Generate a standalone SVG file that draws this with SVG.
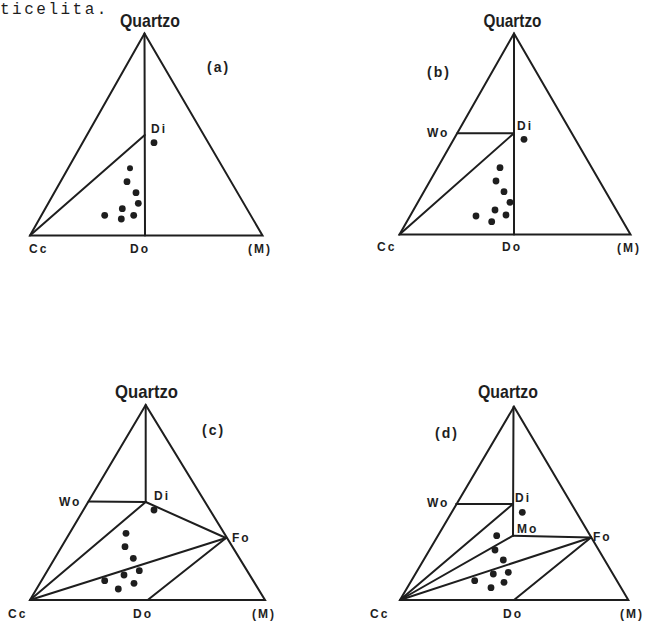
<svg xmlns="http://www.w3.org/2000/svg" width="647" height="622" viewBox="0 0 647 622">
<style>
.ln{fill:none;stroke:#1e1e1e;stroke-width:2;stroke-linejoin:miter;stroke-linecap:round}
.dot{fill:#1e1e1e}
.q{font-family:"Liberation Sans",Arial,sans-serif;font-weight:bold;font-size:19px;fill:#1e1e1e;text-anchor:middle}
.lb{font-family:"Liberation Sans",Arial,sans-serif;font-weight:bold;font-size:12px;letter-spacing:2px;fill:#1e1e1e}
.pl{font-family:"Liberation Sans",Arial,sans-serif;font-weight:bold;font-size:14px;letter-spacing:2px;fill:#1e1e1e}
.tx{font-family:"Liberation Mono","Courier New",monospace;font-size:16px;letter-spacing:2.5px;fill:#1e1e1e}
</style>
<rect width="647" height="622" fill="#fff"/>
<text class="tx" x="0" y="14">ticelita.</text>

<!-- Panel (a) -->
<g id="panel-a">
  <g id="a-connectors">
    <polygon class="ln" points="144.5,33.5 30,235.5 262.5,235.5"/>
    <line class="ln" x1="144.5" y1="33.5" x2="145" y2="235.5"/>
    <line class="ln" x1="30" y1="235.5" x2="144.8" y2="135"/>
  </g>
  <g id="a-quartzo"><text class="q" x="150" y="26.5" textLength="60" lengthAdjust="spacingAndGlyphs">Quartzo</text></g>
  <g id="a-title"><text class="pl" x="207" y="72">(a)</text></g>
  <g id="a-di"><text class="lb" x="151" y="133">Di</text></g>
  <g id="a-cc"><text class="lb" x="29" y="253">Cc</text></g>
  <g id="a-do"><text class="lb" x="130" y="253">Do</text></g>
  <g id="a-m"><text class="lb" x="248" y="253">(M)</text></g>
  <g id="a-dots">
    <circle class="dot" cx="154" cy="142.7" r="3.4"/>
    <circle class="dot" cx="130" cy="168.3" r="3"/>
    <circle class="dot" cx="127" cy="181.7" r="3.4"/>
    <circle class="dot" cx="136" cy="192.7" r="3.4"/>
    <circle class="dot" cx="138.3" cy="203.3" r="3.4"/>
    <circle class="dot" cx="122.3" cy="208.7" r="3.4"/>
    <circle class="dot" cx="104.7" cy="215.3" r="3.4"/>
    <circle class="dot" cx="121.3" cy="219" r="3.4"/>
    <circle class="dot" cx="133.7" cy="215.3" r="3.4"/>
  </g>
</g>

<!-- Panel (b) -->
<g id="panel-b">
  <g id="b-connectors">
    <polygon class="ln" points="514,33.5 399.5,234.5 630.5,234.5"/>
    <line class="ln" x1="514" y1="33.5" x2="514" y2="234.5"/>
    <line class="ln" x1="457.3" y1="133.2" x2="514" y2="133.2"/>
    <line class="ln" x1="399.5" y1="234.5" x2="514" y2="133.2"/>
  </g>
  <g id="b-quartzo"><text class="q" x="512.5" y="26.7" textLength="58" lengthAdjust="spacingAndGlyphs">Quartzo</text></g>
  <g id="b-title"><text class="pl" x="427" y="77">(b)</text></g>
  <g id="b-wo"><text class="lb" x="427" y="137">Wo</text></g>
  <g id="b-di"><text class="lb" x="517" y="130">Di</text></g>
  <g id="b-cc"><text class="lb" x="377" y="251">Cc</text></g>
  <g id="b-do"><text class="lb" x="502" y="251">Do</text></g>
  <g id="b-m"><text class="lb" x="617" y="252">(M)</text></g>
  <g id="b-dots">
    <circle class="dot" cx="524" cy="139.3" r="3.4"/>
    <circle class="dot" cx="500" cy="167.7" r="3.4"/>
    <circle class="dot" cx="496" cy="181" r="3.4"/>
    <circle class="dot" cx="504" cy="191.7" r="3.4"/>
    <circle class="dot" cx="510" cy="202.3" r="3.4"/>
    <circle class="dot" cx="495" cy="210" r="3.4"/>
    <circle class="dot" cx="506" cy="215" r="3.4"/>
    <circle class="dot" cx="476" cy="216" r="3.4"/>
    <circle class="dot" cx="491.7" cy="221.7" r="3.4"/>
  </g>
</g>

<!-- Panel (c) -->
<g id="panel-c">
  <g id="c-connectors">
    <polygon class="ln" points="145.7,405 30,600 265,600"/>
    <line class="ln" x1="145.7" y1="405" x2="145.7" y2="502"/>
    <line class="ln" x1="88.6" y1="501.5" x2="145.7" y2="502"/>
    <line class="ln" x1="145.7" y1="502" x2="226" y2="538"/>
    <line class="ln" x1="30" y1="600" x2="145.7" y2="502"/>
    <line class="ln" x1="30" y1="600" x2="226" y2="538"/>
    <line class="ln" x1="147.7" y1="600" x2="226" y2="538"/>
  </g>
  <g id="c-quartzo"><text class="q" x="146.5" y="398" textLength="63" lengthAdjust="spacingAndGlyphs">Quartzo</text></g>
  <g id="c-title"><text class="pl" x="202" y="435">(c)</text></g>
  <g id="c-wo"><text class="lb" x="59" y="505.5">Wo</text></g>
  <g id="c-di"><text class="lb" x="154" y="500">Di</text></g>
  <g id="c-fo"><text class="lb" x="232" y="542">Fo</text></g>
  <g id="c-cc"><text class="lb" x="8" y="618">Cc</text></g>
  <g id="c-do"><text class="lb" x="133" y="618">Do</text></g>
  <g id="c-m"><text class="lb" x="252" y="618">(M)</text></g>
  <g id="c-dots">
    <circle class="dot" cx="154" cy="510" r="3.4"/>
    <circle class="dot" cx="126" cy="533.3" r="3.4"/>
    <circle class="dot" cx="125" cy="546.7" r="3.4"/>
    <circle class="dot" cx="133.3" cy="558.3" r="3.4"/>
    <circle class="dot" cx="139.3" cy="570.7" r="3.4"/>
    <circle class="dot" cx="124" cy="575" r="3.4"/>
    <circle class="dot" cx="104.7" cy="580.7" r="3.4"/>
    <circle class="dot" cx="134" cy="583.3" r="3.4"/>
    <circle class="dot" cx="118.3" cy="589" r="3.4"/>
  </g>
</g>

<!-- Panel (d) -->
<g id="panel-d">
  <g id="d-connectors">
    <polygon class="ln" points="514,406.7 400,600 628.3,600"/>
    <line class="ln" x1="513.5" y1="406.7" x2="513" y2="535.7"/>
    <line class="ln" x1="456.1" y1="504" x2="513" y2="504"/>
    <line class="ln" x1="513" y1="535.7" x2="591" y2="537.5"/>
    <line class="ln" x1="400" y1="600" x2="513" y2="504"/>
    <line class="ln" x1="400" y1="600" x2="513" y2="535.7"/>
    <line class="ln" x1="400" y1="600" x2="591" y2="537.5"/>
    <line class="ln" x1="514" y1="600" x2="591" y2="537.5"/>
  </g>
  <g id="d-quartzo"><text class="q" x="508" y="398" textLength="60" lengthAdjust="spacingAndGlyphs">Quartzo</text></g>
  <g id="d-title"><text class="pl" x="435" y="438">(d)</text></g>
  <g id="d-wo"><text class="lb" x="427" y="507">Wo</text></g>
  <g id="d-di"><text class="lb" x="515" y="501.5">Di</text></g>
  <g id="d-mo"><text class="lb" x="517" y="533">Mo</text></g>
  <g id="d-fo"><text class="lb" x="593" y="540.5">Fo</text></g>
  <g id="d-cc"><text class="lb" x="370" y="618">Cc</text></g>
  <g id="d-do"><text class="lb" x="503" y="618">Do</text></g>
  <g id="d-m"><text class="lb" x="620" y="618" letter-spacing="1">(M)</text></g>
  <g id="d-dots">
    <circle class="dot" cx="522.3" cy="512.3" r="3.4"/>
    <circle class="dot" cx="496.7" cy="535.7" r="3.4"/>
    <circle class="dot" cx="495" cy="550" r="3.4"/>
    <circle class="dot" cx="503.3" cy="560" r="3.4"/>
    <circle class="dot" cx="508.3" cy="572.3" r="3.4"/>
    <circle class="dot" cx="493.3" cy="574" r="3.4"/>
    <circle class="dot" cx="474.7" cy="580.7" r="3.4"/>
    <circle class="dot" cx="504" cy="582.3" r="3.4"/>
    <circle class="dot" cx="491" cy="587.7" r="3.4"/>
  </g>
</g>
</svg>
